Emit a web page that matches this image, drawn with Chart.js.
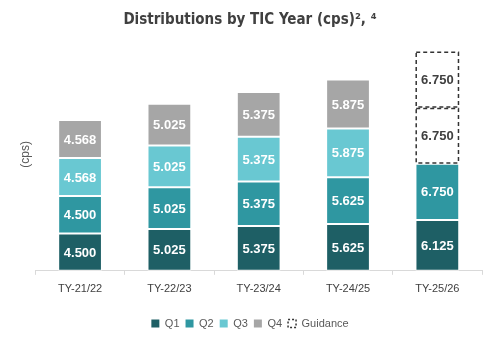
<!DOCTYPE html>
<html>
<head>
<meta charset="utf-8">
<script src="https://cdn.jsdelivr.net/npm/chart.js@4"></script>
<style>
  body { margin: 0; background: #fff; }
  #wrap { width: 492px; height: 337px; }
</style>
</head>
<body>
<div id="wrap"><canvas id="bar-chart"></canvas></div>
<script>
const years = ["TY-21/22", "TY-22/23", "TY-23/24", "TY-24/25", "TY-25/26"];
const q1 = [4.5, 5.025, 5.375, 5.625, 6.125];
const q2 = [4.5, 5.025, 5.375, 5.625, 6.75];
const q3 = [4.568, 5.025, 5.375, 5.875, null];
const q4 = [4.568, 5.025, 5.375, 5.875, null];
const guideQ3 = [null, null, null, null, 6.75];
const guideQ4 = [null, null, null, null, 6.75];

const bar = (label, data, color) => ({
  label: label,
  data: data,
  backgroundColor: color,
  borderColor: "#ffffff",
  borderWidth: 1,
  borderSkipped: false
});

// dashed boxes for guidance + value labels inside each segment
const segLabels = {
  id: "segLabels",
  afterDatasetsDraw(chart) {
    const ctx = chart.ctx;
    chart.data.datasets.forEach((ds, i) => {
      const meta = chart.getDatasetMeta(i);
      meta.data.forEach((el, j) => {
        const v = ds.data[j];
        if (v == null) return;
        const top = Math.min(el.y, el.base), bot = Math.max(el.y, el.base);
        const left = el.x - el.width / 2;
        ctx.save();
        if (ds.guidance) {
          ctx.setLineDash([4, 3]);
          ctx.strokeStyle = "#333333";
          ctx.lineWidth = 1.5;
          ctx.strokeRect(left + 0.75, top + 0.75, el.width - 1.5, bot - top - 1.5);
        }
        ctx.font = "bold 13px 'Liberation Sans', Arial, sans-serif";
        ctx.fillStyle = ds.guidance ? "#404040" : "#ffffff";
        ctx.textAlign = "center";
        ctx.textBaseline = "middle";
        ctx.fillText(v.toFixed(3), el.x, (top + bot) / 2 + 1);
        ctx.restore();
      });
    });
  }
};

new Chart(document.getElementById("bar-chart"), {
  type: "bar",
  data: {
    labels: years,
    datasets: [
      bar("Q1", q1, "#1e5f65"),
      bar("Q2", q2, "#2f97a1"),
      bar("Q3", q3, "#69c8d2"),
      bar("Q4", q4, "#a6a6a6"),
      Object.assign(bar("Guidance", guideQ3, "rgba(255,255,255,0)"), { guidance: true, borderWidth: 0 }),
      Object.assign(bar("Guidance", guideQ4, "rgba(255,255,255,0)"), { guidance: true, borderWidth: 0 })
    ]
  },
  options: {
    responsive: true,
    maintainAspectRatio: false,
    animation: false,
    categoryPercentage: 1,
    barPercentage: 0.49,
    layout: { padding: { left: 18, right: 10, top: 2, bottom: -2 } },
    plugins: {
      title: {
        display: true,
        text: "Distributions by TIC Year (cps)², ⁴",
        color: "#404040",
        font: { family: "'DejaVu Sans Condensed', 'DejaVu Sans', sans-serif", size: 15, weight: "bold" },
        padding: { top: 9, bottom: 9 }
      },
      legend: {
        position: "bottom",
        labels: {
          boxWidth: 8,
          boxHeight: 8,
          color: "#595959",
          font: { family: "'Liberation Sans', Arial, sans-serif", size: 11 },
          padding: 6,
          generateLabels(chart) {
            const items = Chart.defaults.plugins.legend.labels.generateLabels(chart);
            return items.filter(it => it.datasetIndex !== 5).map(it => {
              if (it.datasetIndex === 4) {
                it.fillStyle = "#ffffff";
                it.strokeStyle = "#333333";
                it.lineWidth = 1.5;
                it.lineDash = [2, 2];
              } else {
                it.lineWidth = 0;
              }
              return it;
            });
          }
        }
      },
      tooltip: { enabled: false }
    },
    scales: {
      x: {
        stacked: true,
        grid: { display: true, drawOnChartArea: false, offset: true, tickLength: 4, color: "#d9d9d9" },
        border: { color: "#d9d9d9" },
        ticks: { color: "#404040", font: { family: "'Liberation Sans', Arial, sans-serif", size: 11 }, padding: 8 },
        afterFit(scale) { scale.height += 8; }
      },
      y: {
        stacked: true,
        min: 0,
        max: 28,
        grid: { display: false },
        border: { display: false },
        ticks: { display: false },
        title: {
          display: true,
          text: "(cps)",
          color: "#595959",
          font: { family: "'Liberation Sans', Arial, sans-serif", size: 12 },
          padding: 0
        },
        afterFit(scale) { scale.width -= 5; }
      }
    }
  },
  plugins: [segLabels]
});
</script>
</body>
</html>
